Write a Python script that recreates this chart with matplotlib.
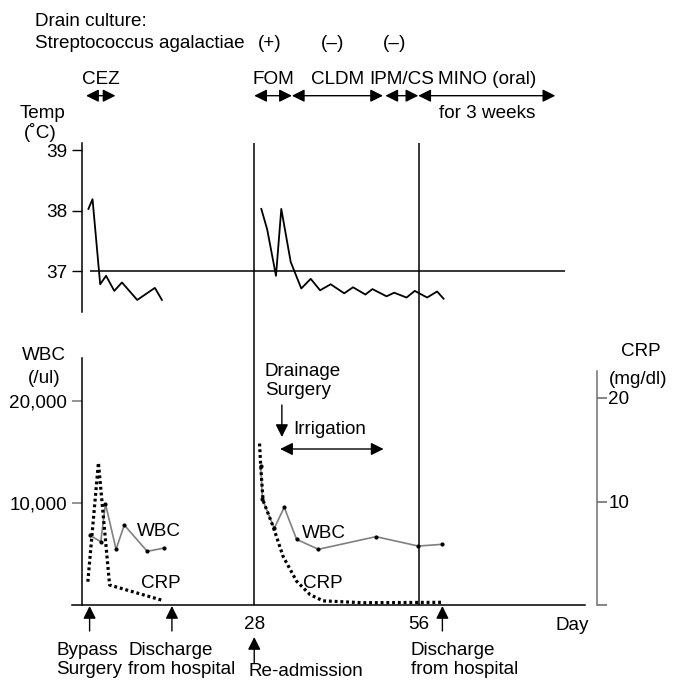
import matplotlib
matplotlib.use('Agg')
import matplotlib.pyplot as plt

plt.rcParams.update({
    'font.family': ['Liberation Sans', 'DejaVu Sans'],
    'font.size': 13.6,
    'axes.linewidth': 1.1,
})

# ---- data --------------------------------------------------------------
temp_days_1 = [-0.2, 0.5, 1.8, 2.8, 4.2, 5.5, 8.1, 11.1, 12.3]
temp_1 = [38.03, 38.19, 36.78, 36.92, 36.67, 36.81, 36.52, 36.72, 36.52]
temp_days_2 = [29.2, 30.2, 31.7, 32.6, 34.2, 36.0, 37.6, 39.2, 41.0, 43.3,
               44.8, 46.9, 48.1, 50.5, 51.8, 53.9, 55.3, 57.4, 59.1, 60.2]
temp_2 = [38.03, 37.69, 36.92, 38.03, 37.15, 36.71, 36.87, 36.68, 36.78, 36.63,
          36.73, 36.61, 36.70, 36.58, 36.64, 36.56, 36.67, 36.56, 36.66, 36.54]
temp_ticks = [37, 38, 39]

wbc_days_1 = [0.1, 1.9, 2.7, 4.5, 5.9, 9.8, 12.7]
wbc_1 = [6830, 6200, 9930, 5460, 7840, 5260, 5590]
wbc_days_2 = [29.1, 29.4, 31.4, 33.1, 35.2, 38.9, 48.7, 55.9, 60.0]
wbc_2 = [13630, 10360, 7520, 9580, 6440, 5460, 6700, 5780, 5950]

crp_days_1 = [-0.3, 1.5, 3.4, 12.5]
crp_1 = [2.25, 13.75, 1.93, 0.43]
crp_days_2 = [28.9, 29.1, 29.5, 31.2, 32.9, 35.2, 37.5, 39.7, 46.5, 59.9]
crp_2 = [15.6, 13.4, 10.1, 7.6, 4.7, 2.3, 1.0, 0.4, 0.22, 0.26]

wbc_ticks = [10000, 20000]
wbc_tick_labels = ['10,000', '20,000']
crp_ticks = [0, 10, 20]
crp_tick_labels = ['', '10', '20']
day_ticks = [28, 56]

drugs = ['CEZ', 'FOM', 'CLDM', 'IPM/CS', 'MINO (oral)']
drug_start = [-0.6, 28.0, 34.4, 50.3, 55.9]
drug_end = [4.4, 34.4, 49.9, 55.9, 79.2]

culture_days = [30.7, 41.4, 51.8]
culture_results = ['(+)', '(\u2013)', '(\u2013)']

event_days = [0, 14, 60]
event_labels = ['Bypass\nSurgery', 'Discharge\nfrom hospital', 'Discharge\nfrom hospital']
readmit_day = 28
drainage_day = 32.7
irrigation = (32.4, 50.0)

# ---- layout (pixels of the 674x682 picture) -----------------------------
W, H = 674, 682
DAY0_PX, PX_PER_DAY = 89.6, 5.88
AX_L, AX_R = 81.7, 585.0


def day_of(px):
    return (px - DAY0_PX) / PX_PER_DAY


def rect(l, t, r, b):
    return [l / W, 1 - b / H, (r - l) / W, (b - t) / H]


def ftext(x, y, s, **kw):
    fig.text(x / W, 1 - y / H, s, **kw)


fig = plt.figure(figsize=(W / 100, H / 100), dpi=100)
xlim = (day_of(AX_L), day_of(AX_R))

# temperature panel
ax_t = fig.add_axes(rect(AX_L, 143, AX_R, 312))
ax_t.set_xlim(xlim)
ax_t.set_ylim(37 - (312 - 271) / 60.3, 37 + (271 - 143) / 60.3)
ax_t.plot(temp_days_1, temp_1, color='k', lw=1.3)
ax_t.plot(temp_days_2, temp_2, color='k', lw=1.3)
ax_t.hlines(37, 0, 80.9, color='k', lw=1.1)
ax_t.set_yticks(temp_ticks)
ax_t.set_xticks([])
for s in ['top', 'right', 'bottom']:
    ax_t.spines[s].set_visible(False)
ax_t.tick_params(axis='y', length=7, width=1, pad=3.5, colors='k')
ax_t.patch.set_visible(False)

# WBC / CRP panel
ax_w = fig.add_axes(rect(AX_L, 358, AX_R, 605))
ax_w.set_xlim(xlim)
ax_w.set_ylim(0, (605 - 358) / 102 * 10000)
ax_w.plot(wbc_days_1, wbc_1, color='#808080', lw=1.2, marker='o', ms=2,
          mfc='k', mec='k', zorder=3)
ax_w.plot(wbc_days_2, wbc_2, color='#808080', lw=1.2, marker='o', ms=2,
          mfc='k', mec='k', zorder=3)
ax_w.set_yticks(wbc_ticks)
ax_w.set_yticklabels(wbc_tick_labels)
ax_w.tick_params(axis='y', length=7, width=1.2, pad=3.5, color='#808080')
ax_w.set_xticks(day_ticks)
ax_w.set_xticklabels([str(d) for d in day_ticks])
ax_w.tick_params(axis='x', length=0, pad=8)
ax_w.spines['top'].set_visible(False)
ax_w.spines['right'].set_visible(False)
ax_w.spines['bottom'].set_bounds(day_of(72), xlim[1])
ax_w.patch.set_visible(False)

ax_c = ax_w.twinx()
ax_c.set_ylim(0, (605 - 358) / 10.35)
ax_c.plot(crp_days_1, crp_1, color='k', lw=2.3, ls=(0, (0.9, 0.9)))
ax_c.plot(crp_days_2, crp_2, color='k', lw=2.3, ls=(0, (0.9, 0.9)))
for s in ['top', 'left', 'bottom']:
    ax_c.spines[s].set_visible(False)
ax_c.spines['right'].set_position(('outward', 8.9))
ax_c.spines['right'].set_bounds(0, (606 - 372) / 10.35)
ax_c.spines['right'].set_color('#707070')
ax_c.set_yticks(crp_ticks)
ax_c.set_yticklabels(crp_tick_labels)
ax_c.tick_params(axis='y', length=7, width=1.2, pad=1, color='#707070')

# overlay: x in days, y in pixels
ax_o = fig.add_axes(rect(AX_L, 0, AX_R, H))
ax_o.set_xlim(xlim)
ax_o.set_ylim(H, 0)
ax_o.axis('off')
ax_o.vlines(day_ticks, 143, 605, color='k', lw=1.1)


def arrow(x0, y0, x1, y1, style='-|>'):
    ax_o.annotate('', xy=(x1, y1), xytext=(x0, y0), annotation_clip=False,
                  arrowprops=dict(arrowstyle=style, color='k', lw=1.0,
                                  mutation_scale=19, shrinkA=0, shrinkB=0))


# header
ftext(35, 21, 'Drain culture:', va='center')
ftext(35, 43, 'Streptococcus agalactiae', va='center')
for d, r in zip(culture_days, culture_results):
    ax_o.text(d, 43, r, ha='center', va='center')

for name, a, b in zip(drugs, drug_start, drug_end):
    ax_o.text((a + b) / 2, 80, name, ha='center', va='center')
    arrow(a, 95.7, b, 95.7, '<|-|>')
ax_o.text((drug_start[-1] + drug_end[-1]) / 2, 113, 'for 3 weeks',
          ha='center', va='center')

# axis titles
ftext(42, 113, 'Temp', ha='center', va='center')
ftext(40, 132, '(\u02daC)', ha='center', va='center')
ftext(44, 355, 'WBC', ha='center', va='center')
ftext(44, 379, '(/ul)', ha='center', va='center')
ftext(641, 351, 'CRP', ha='center', va='center')
ftext(638, 380, '(mg/dl)', ha='center', va='center')
ftext(589, 626, 'Day', ha='right', va='center')

# series labels
ftext(137, 531, 'WBC', va='center')
ftext(302, 534, 'WBC', va='center')
ftext(141, 584, 'CRP', va='center')
ftext(303, 584, 'CRP', va='center')

# drainage / irrigation
ftext(265, 381, 'Drainage\nSurgery', va='center', linespacing=1.2)
arrow(drainage_day, 405, drainage_day, 437)
ftext(293, 430, 'Irrigation', va='center')
arrow(irrigation[0], 449, irrigation[1], 449, '<|-|>')

# events under the axis
label_left = [56, 128, 411]
for d, lab, lx in zip(event_days, event_labels, label_left):
    arrow(d, 631, d, 606)
    ftext(lx, 660, lab, va='center', linespacing=1.2)
arrow(readmit_day, 663, readmit_day, 637)
ftext(248, 671, 'Re-admission', va='center')

fig.savefig('out.png', dpi=100)
